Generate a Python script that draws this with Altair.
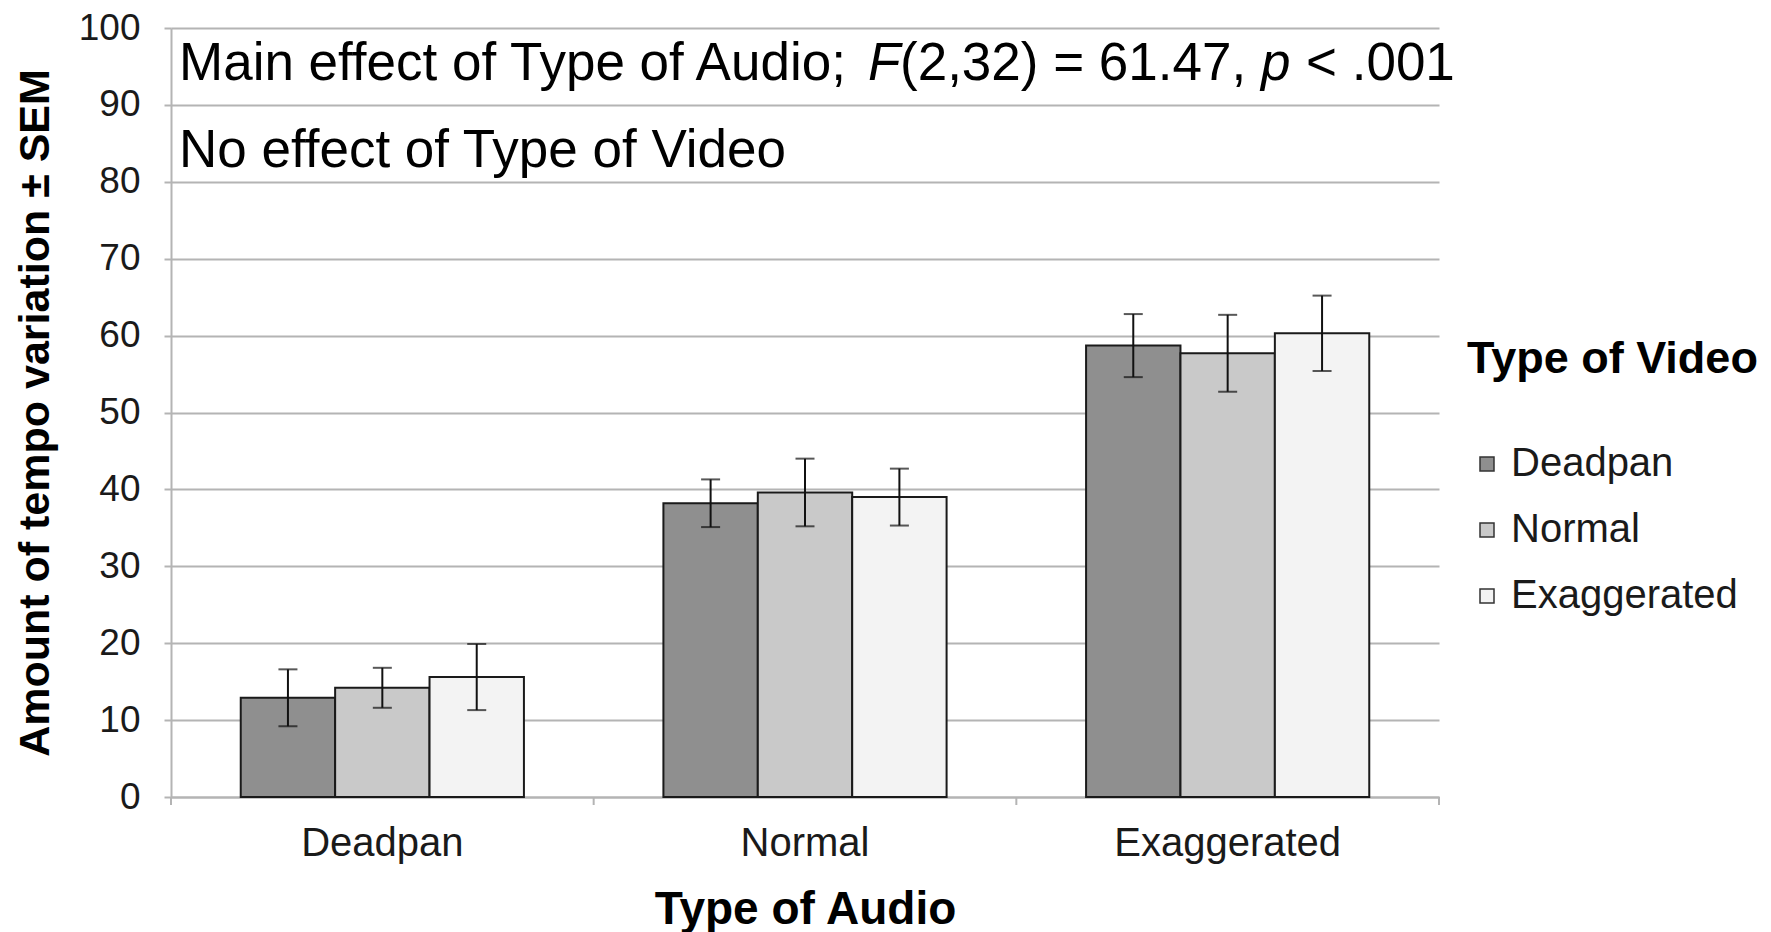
import altair as alt
import pandas as pd

# Mean amount of tempo variation (± SEM) by type of audio and type of video
audio_levels = ["Deadpan", "Normal", "Exaggerated"]
video_levels = ["Deadpan", "Normal", "Exaggerated"]

mean_deadpan_video = [12.9, 38.2, 58.7]
mean_normal_video = [14.2, 39.6, 57.7]
mean_exaggerated_video = [15.6, 39.0, 60.3]

sem_deadpan_video = [3.7, 3.1, 4.1]
sem_normal_video = [2.6, 4.4, 5.0]
sem_exaggerated_video = [4.3, 3.7, 4.9]

fill_colors = ["#8f8f8f", "#c9c9c9", "#f3f3f3"]

rows = []
for video, means, sems in zip(
    video_levels,
    [mean_deadpan_video, mean_normal_video, mean_exaggerated_video],
    [sem_deadpan_video, sem_normal_video, sem_exaggerated_video],
):
    for audio, m, s in zip(audio_levels, means, sems):
        rows.append({"audio": audio, "video": video, "mean": m,
                     "lo": m - s, "hi": m + s})
df = pd.DataFrame(rows)

FONT = "Liberation Sans"
GRID = "#b4b4b4"
W, H = 1268, 769

x_enc = alt.X(
    "audio:N",
    sort=audio_levels,
    scale=alt.Scale(paddingInner=0.33, paddingOuter=0.165),
    axis=alt.Axis(
        title="Type of Audio", labelAngle=0, ticks=False, labelLimit=0,
        labelFontSize=40, labelPadding=26,
        titleFontSize=46, titlePadding=24,
    ),
)
xoff_enc = alt.XOffset("video:N", sort=video_levels,
                       scale=alt.Scale(paddingInner=0, paddingOuter=0))
y_enc = alt.Y(
    "mean:Q",
    scale=alt.Scale(domain=[0, 100], nice=False),
    axis=alt.Axis(
        title="Amount of tempo variation ± SEM",
        values=list(range(0, 101, 10)), labelFontSize=37, labelPadding=24,
        tickSize=7, titleFontSize=43, titlePadding=21,
    ),
)

base = alt.Chart(df)

bars = base.mark_bar(stroke="#1a1a1a", strokeWidth=2).encode(
    x=x_enc,
    xOffset=xoff_enc,
    y=y_enc,
    fill=alt.Fill(
        "video:N", sort=video_levels,
        scale=alt.Scale(domain=video_levels, range=fill_colors),
        legend=alt.Legend(
            title="Type of Video", orient="none", legendX=1296, legendY=309,
            titleFontSize=45, titleFontWeight="bold", titleColor="#000",
            titleLimit=0, labelLimit=0,
            titlePadding=62, labelFontSize=40, labelColor="#1a1a1a",
            labelFont=FONT, titleFont=FONT, symbolType="square",
            symbolSize=196, symbolStrokeColor="#333", symbolStrokeWidth=1.5,
            symbolOffset=0, labelOffset=4, rowPadding=26,
        ),
    ),
)

whisker = base.mark_rule(color="#111", strokeWidth=2).encode(
    x=alt.X("audio:N", sort=audio_levels),
    xOffset=alt.XOffset("video:N", sort=video_levels),
    y="lo:Q",
    y2="hi:Q",
)
cap_top = base.mark_tick(color="#111", thickness=2, size=19).encode(
    x=alt.X("audio:N", sort=audio_levels),
    xOffset=alt.XOffset("video:N", sort=video_levels),
    y="hi:Q",
)
cap_bottom = base.mark_tick(color="#111", thickness=2, size=19).encode(
    x=alt.X("audio:N", sort=audio_levels),
    xOffset=alt.XOffset("video:N", sort=video_levels),
    y="lo:Q",
)

# Tick marks on the category axis sit at the boundaries between groups
group_ticks = [
    alt.Chart(pd.DataFrame({"k": [k]})).mark_rule(
        color=GRID, strokeWidth=2
    ).encode(x=alt.value(k * W / 3), y=alt.value(H), y2=alt.value(H + 8))
    for k in range(4)
]

# Statistics note in the top-left corner, with italic F and p
note_size = 53
line1 = [
    ("Main effect of Type of Audio;", "normal", 8),
    ("F", "italic", 697),
    ("(2,32) = 61.47,", "normal", 729),
    ("p", "italic", 1090),
    ("< .001", "normal", 1135),
]
notes = []
for txt, style, xpos in line1:
    notes.append(
        alt.Chart(pd.DataFrame({"t": [txt]})).mark_text(
            x=xpos, y=52, align="left", baseline="alphabetic",
            font=FONT, fontSize=note_size, fontStyle=style, color="#000",
        ).encode(text="t:N")
    )
notes.append(
    alt.Chart(pd.DataFrame({"t": ["No effect of Type of Video"]})).mark_text(
        x=8, y=139, align="left", baseline="alphabetic",
        font=FONT, fontSize=note_size, color="#000",
    ).encode(text="t:N")
)

chart = alt.layer(bars, whisker, cap_top, cap_bottom, *group_ticks, *notes).properties(
    width=W, height=H,
    padding={"left": 14, "top": 9, "right": 5, "bottom": 5},
).configure_view(stroke=None).configure_axis(
    labelFont=FONT, titleFont=FONT, labelColor="#1a1a1a", titleColor="#000",
    titleFontWeight="bold", domainColor=GRID, domainWidth=2,
    tickColor=GRID, tickWidth=2, gridColor=GRID, gridWidth=2,
).configure_axisX(grid=False).configure_axisY(grid=True)

chart.save("out.html", embed_options={"renderer": "svg", "actions": False})
